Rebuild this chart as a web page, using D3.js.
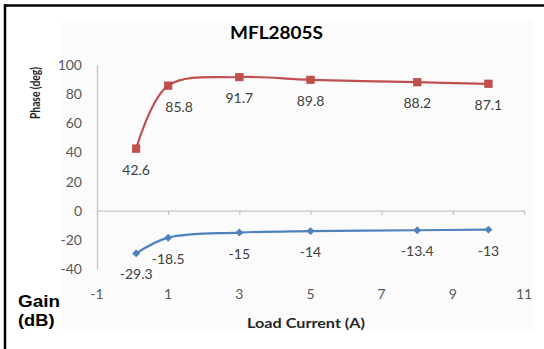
<!DOCTYPE html>
<html>
<head>
<meta charset="utf-8">
<script src="https://cdn.jsdelivr.net/npm/d3@7"></script>
<style>
  html, body { margin: 0; padding: 0; background: #ffffff; }
  svg { display: block; }
</style>
</head>
<body>
<div id="chart"></div>
<script>
// Load current (A) at each measurement
const loadCurrent = [0.1, 1, 3, 5, 8, 10];
// Phase margin (deg)
const phase = [42.6, 85.8, 91.7, 89.8, 88.2, 87.1];
// Gain margin (dB)
const gain = [-29.3, -18.5, -15, -14, -13.4, -13];
// Axis ticks
const xTicks = [-1, 1, 3, 5, 7, 9, 11];
const yTicks = [-40, -20, 0, 20, 40, 60, 80, 100];

const W = 544, H = 349;
const svg = d3.select("#chart").append("svg")
  .attr("width", W).attr("height", H);

// outer frame (top and left edges visible)
svg.append("rect").attr("x", 0).attr("y", 0).attr("width", W).attr("height", H).attr("fill", "#fff");
svg.append("rect").attr("x", 62).attr("y", 20).attr("width", 471).attr("height", 311).attr("fill", "#fbfbfb");
svg.append("line").attr("x1", 4).attr("x2", W).attr("y1", 5.5).attr("y2", 5.5)
  .attr("stroke", "#000").attr("stroke-width", 2.5);
svg.append("line").attr("x1", 5).attr("x2", 5).attr("y1", 4.3).attr("y2", H)
  .attr("stroke", "#000").attr("stroke-width", 2.5);

const x = d3.scaleLinear().domain([-1, 11]).range([97, 524]);
const y = d3.scaleLinear().domain([-40, 100]).range([269, 65]);

const font = "Lato, 'Open Sans', sans-serif";
const plain = d => String(d);

// y axis
const yAxis = svg.append("g").attr("transform", `translate(${x(-1)},0)`)
  .call(d3.axisLeft(y).tickValues(yTicks).tickFormat(plain)
    .tickSize(0).tickPadding(15).tickSizeOuter(0));
yAxis.select(".domain").attr("stroke", "#c4c4c4").attr("stroke-width", 1.3);
yAxis.selectAll("text").attr("font-family", font).attr("font-size", 14).attr("fill", "#595959");

// x axis crossing at zero, labels placed low
const xAxis = svg.append("g").attr("transform", `translate(0,${y(0)})`)
  .call(d3.axisBottom(x).tickValues(xTicks).tickSize(4).tickSizeOuter(0).tickFormat(""));
xAxis.select(".domain").attr("stroke", "#c4c4c4").attr("stroke-width", 1.3);
xAxis.selectAll(".tick line").attr("stroke", "#c4c4c4").attr("stroke-width", 1.3);

svg.append("g").selectAll("text").data(xTicks).join("text")
  .attr("x", d => x(d)).attr("y", 299)
  .attr("text-anchor", "middle")
  .attr("font-family", font).attr("font-size", 14).attr("fill", "#595959")
  .text(plain);

const curve = d3.curveCatmullRom.alpha(0.5);
const lineGen = vals => d3.line().curve(curve)
  .x((d, i) => x(loadCurrent[i])).y(d => y(d))(vals);

// phase series
svg.append("path").attr("d", lineGen(phase))
  .attr("fill", "none").attr("stroke", "#c0504d").attr("stroke-width", 2.2);
svg.append("g").selectAll("rect").data(phase).join("rect")
  .attr("x", (d, i) => x(loadCurrent[i]) - 3.8)
  .attr("y", d => y(d) - 3.8)
  .attr("width", 7.6).attr("height", 7.6)
  .attr("fill", "#c0504d").attr("stroke", "#b54744").attr("stroke-width", 0.6);

// gain series
svg.append("path").attr("d", lineGen(gain))
  .attr("fill", "none").attr("stroke", "#4f81bd").attr("stroke-width", 2.2);
svg.append("g").selectAll("path").data(gain).join("path")
  .attr("d", d3.symbol(d3.symbolDiamond2, 40))
  .attr("transform", (d, i) => `translate(${x(loadCurrent[i])},${y(d)})`)
  .attr("fill", "#4f81bd");

// value labels under each point
const phaseNudge = [0, 11, 0, 0, 0, 0];
svg.append("g").selectAll("text").data(phase).join("text")
  .attr("x", (d, i) => x(loadCurrent[i]) + phaseNudge[i])
  .attr("y", d => y(d) + 26)
  .attr("text-anchor", "middle")
  .attr("font-family", font).attr("font-size", 14).attr("fill", "#404040")
  .text(plain);
svg.append("g").selectAll("text").data(gain).join("text")
  .attr("x", (d, i) => x(loadCurrent[i]))
  .attr("y", d => y(d) + 26)
  .attr("text-anchor", "middle")
  .attr("font-family", font).attr("font-size", 14).attr("fill", "#404040")
  .text(plain);

// titles (widths fitted with textLength)
svg.append("text").attr("x", 230).attr("y", 39)
  .attr("textLength", 93).attr("lengthAdjust", "spacingAndGlyphs")
  .attr("font-family", font).attr("font-weight", "bold").attr("font-size", 16.5)
  .attr("fill", "#000").text("MFL2805S");

svg.append("text").attr("transform", "translate(40,119) rotate(-90)")
  .attr("textLength", 52).attr("lengthAdjust", "spacingAndGlyphs")
  .attr("font-family", font).attr("font-weight", "bold").attr("font-size", 13)
  .attr("fill", "#262626").text("Phase (deg)");

svg.append("text").attr("x", 247).attr("y", 328)
  .attr("textLength", 118).attr("lengthAdjust", "spacingAndGlyphs")
  .attr("font-family", font).attr("font-weight", "bold").attr("font-size", 14)
  .attr("fill", "#262626").text("Load Current (A)");

const gainFont = "'Liberation Sans', Arial, sans-serif";
svg.append("text").attr("x", 18).attr("y", 306.5)
  .attr("textLength", 42).attr("lengthAdjust", "spacingAndGlyphs")
  .attr("font-family", gainFont).attr("font-weight", "bold").attr("font-size", 17)
  .attr("fill", "#000").text("Gain");
svg.append("text").attr("x", 18).attr("y", 326)
  .attr("textLength", 36.5).attr("lengthAdjust", "spacingAndGlyphs")
  .attr("font-family", gainFont).attr("font-weight", "bold").attr("font-size", 17)
  .attr("fill", "#000").text("(dB)");
</script>
</body>
</html>
